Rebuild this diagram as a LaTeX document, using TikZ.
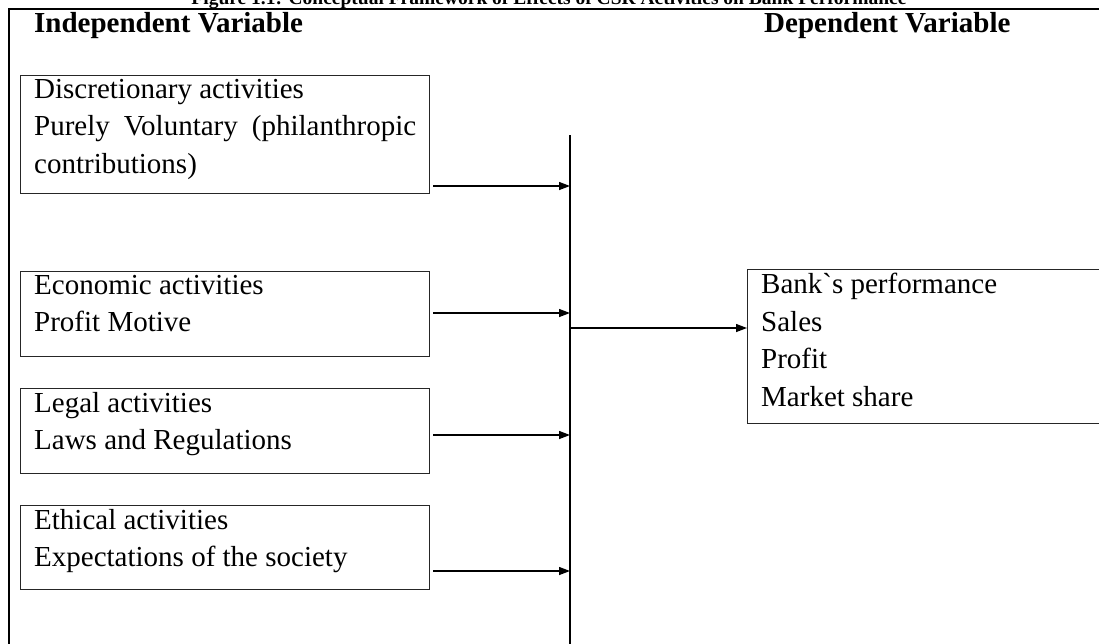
\documentclass[tikz,border=0pt]{standalone}
\usepackage{fontspec}
\setmainfont{Liberation Serif}
\usetikzlibrary{arrows.meta,calc}
\begin{document}
\begin{tikzpicture}[x=1pt,y=-1pt,
  box/.style={draw=black!85,line width=1.2pt,rectangle,inner sep=0pt,anchor=north west},
  btext/.style={anchor=north west,inner sep=0pt,align=left,font=\fontsize{29}{37.5}\selectfont},
  head/.style={anchor=base west,inner sep=0pt,font=\fontsize{29}{35}\selectfont\bfseries},
  arr/.style={line width=1.3pt,-{Triangle[length=11pt,width=8pt]}},
  bus/.style={line width=1.3pt}]
\useasboundingbox (0,0) rectangle (1099,643);
% title (cut off at the top, as in the reference)
\node[anchor=base,inner sep=0pt,font=\fontsize{19.5}{22}\selectfont\bfseries] (title) at (549,4) {Figure 1.1: Conceptual Framework of Effects of CSR Activities on Bank Performance};
% frame
\draw[line width=2pt] (8,9) -- (1105,9);
\draw[line width=1.5pt] (9,650) -- (9,9);
% headers
\node[head] (h1) at (34,32) {Independent Variable};
\node[head] (h2) at (764,32) {Dependent Variable};
% boxes
\node[box,minimum width=409pt,minimum height=118pt] (b1) at (20,75) {};
\node[btext,text width=382pt,align=justify] (t1) at ($(b1.north west)+(14,4)$) {Discretionary activities\\Purely Voluntary (philanthropic contributions)};
\node[box,minimum width=409pt,minimum height=85pt] (b2) at (20,271) {};
\node[btext] (t2) at ($(b2.north west)+(14,4)$) {Economic activities\\Profit Motive};
\node[box,minimum width=409pt,minimum height=85pt] (b3) at (20,388) {};
\node[btext] (t3) at ($(b3.north west)+(14,4)$) {Legal activities\\Laws and Regulations};
\node[box,minimum width=409pt,minimum height=84pt] (b4) at (20,505) {};
\node[btext] (t4) at ($(b4.north west)+(14,4)$) {Ethical activities\\Expectations of the society};
\node[box,minimum width=380pt,minimum height=154pt] (rb) at (747,269) {};
\node[btext] (rt) at ($(rb.north west)+(14,4)$) {Bank\textasciigrave s performance\\Sales\\Profit\\Market share};
% bus line
\coordinate (vtop) at (570,135);
\coordinate (vbot) at (570,650);
\draw[bus] (vtop) -- (vbot);
\coordinate (j1) at (570,186);
\coordinate (j2) at (570,313);
\coordinate (j3) at (570,435);
\coordinate (j4) at (570,571);
\coordinate (jo) at (570,328);
\draw[arr] ($(b1.east |- j1)+(3,0)$) -- (j1);
\draw[arr] ($(b2.east |- j2)+(3,0)$) -- (j2);
\draw[arr] ($(b3.east |- j3)+(3,0)$) -- (j3);
\draw[arr] ($(b4.east |- j4)+(3,0)$) -- (j4);
\draw[arr] (jo) -- (rb.west |- jo);
\end{tikzpicture}
\end{document}
